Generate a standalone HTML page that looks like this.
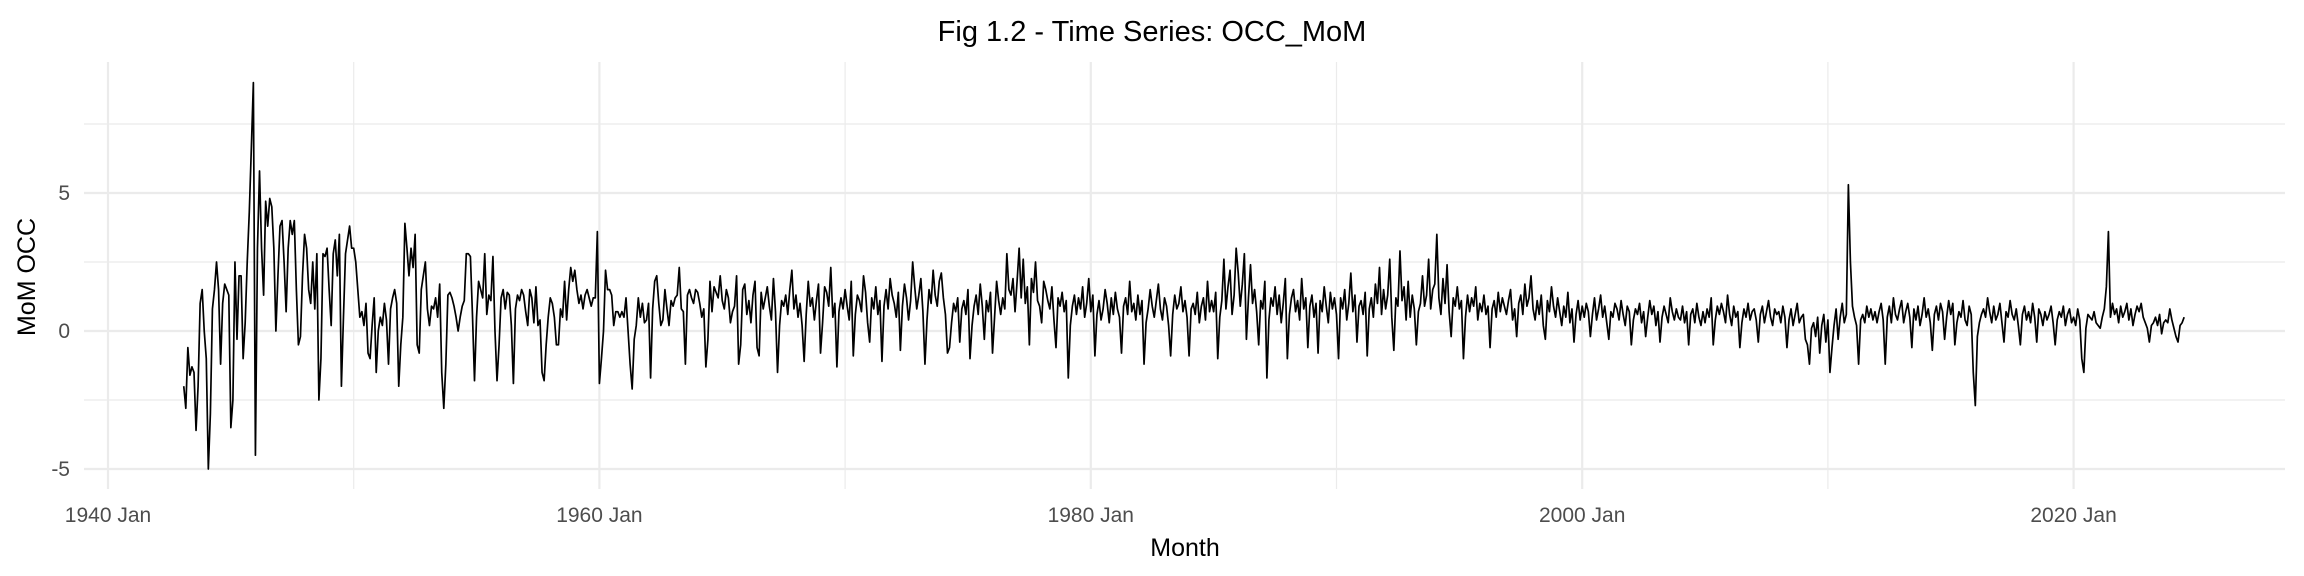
<!DOCTYPE html>
<html><head><meta charset="utf-8"><style>
html,body{margin:0;padding:0;background:#fff;}
svg{display:block;font-family:"Liberation Sans",Arial,sans-serif;}
</style></head><body>
<svg id="chart" width="2304" height="576" viewBox="0 0 2304 576" xmlns="http://www.w3.org/2000/svg">
<rect width="2304" height="576" fill="#fff"/>
<g id="grid"></g>
<g id="axes"></g>
<path id="line" fill="none" stroke="#000" stroke-width="1.7" stroke-linejoin="round"/>
<text x="1152" y="41" font-size="29" text-anchor="middle" fill="#000">Fig 1.2 - Time Series: OCC_MoM</text>
<text x="1185" y="556" font-size="25" text-anchor="middle" fill="#000">Month</text>
<text transform="translate(35,277) rotate(-90)" font-size="25" text-anchor="middle" fill="#000">MoM OCC</text>
</svg>
<script>
const startYear = 1943, startMonth = 1; // Feb 1943 (0-based month)
const occMoM = [
-2,-2.8,-0.6,-1.6,-1.3,-1.5,-3.6,-2,1,1.5,0,
-1,-5,-3,0.8,1.5,2.5,1.5,-1.2,1,1.7,1.5,1.3,
-3.5,-2.5,2.5,-0.3,2,2,-1,0.3,2.5,4.3,6.6,9,
-4.5,3,5.8,3,1.3,4.7,3.8,4.8,4.5,3,0,2,
3.8,4,2.5,0.7,3,4,3.5,4,1.5,-0.5,-0.2,2,
3.5,3,1.5,1,2.5,0.8,2.8,-2.5,-1,2.8,2.7,3,
1.5,0.2,2.8,3.3,2,3.5,-2,0.5,2.8,3.3,3.8,3,
3,2.5,1.5,0.5,0.7,0.2,1,-0.8,-1,0.2,1.2,-1.5,
0,0.5,0.2,1,0.4,-1.2,0.8,1.2,1.5,1,-2,-0.5,
0.5,3.9,3,2,3,2.3,3.5,-0.5,-0.8,1.5,2,2.5,
0.8,0.2,0.9,0.8,1.2,0.5,1.7,-1.5,-2.8,-1.2,1.3,1.4,
1.2,0.9,0.5,0,0.5,0.9,1.1,2.8,2.8,2.7,0.6,-1.8,
0.5,1.8,1.5,1.2,2.8,0.6,1.3,1.1,2.7,0,-1.8,-0.5,
1.2,1.5,0.8,1.4,1.3,0.2,-1.9,0.8,1.3,1.1,1.5,1.3,
0.7,0.2,1.5,1.2,0.3,1.6,0.2,0.4,-1.5,-1.8,-0.5,0.5,
1.2,1,0.5,-0.5,-0.5,0.8,0.5,1.8,0.4,1.5,2.3,1.8,
2.2,1.5,1,1.3,0.8,1.3,1.5,1.2,0.9,1.2,1.2,3.6,
-1.9,-1,0,2.2,1.5,1.5,1.3,0.2,0.7,0.7,0.5,0.7,
0.5,1.2,0,-1.2,-2.1,-0.3,0.2,1.2,0.5,1,0.3,0.4,
1,-1.7,0.8,1.8,2,1,0.2,0.4,1.5,0.8,0.2,1.1,
0.9,1.2,1.3,2.3,0.8,0.7,-1.2,1.3,1.5,1.2,1,1.5,
1.4,1,0.5,0.8,-1.3,-0.3,1.8,0.7,1.6,1.4,1.2,2,
1.1,0.8,1.5,1.2,0.3,0.7,0.9,2,-1.2,-0.5,1.5,1.7,
0.6,1.1,0.3,1.3,1.8,-0.6,-0.9,1.4,0.8,1.2,1.6,0.9,
0.4,1.9,0.7,-1.5,0.2,1.1,0.9,1.3,0.6,1.5,2.2,0.8,
1.3,0.5,1,0.2,-1.1,0.6,1.8,0.9,1.2,0.4,1.1,1.7,
-0.8,0.3,1.6,1.4,0.9,2.3,0.5,1,-1.3,0.7,1.2,0.8,
1.5,0.9,0.4,1.8,-0.9,0.6,1.3,1.1,0.7,2,1.4,0.3,
-0.4,1.2,0.8,1.6,0.6,1.1,-1.1,0.9,1.5,0.8,1.9,1.3,
1,0.5,1.4,-0.7,0.9,1.7,1.2,0.4,1.1,2.5,1.6,0.8,
1.3,1.9,0.7,-1.2,0.4,1.5,1,2.2,1.3,0.9,1.8,2.1,
1.2,0.6,-0.8,-0.6,0.3,1,0.7,1.2,-0.4,0.8,1.1,0.6,
1.5,-1,0.2,0.9,1.3,0.6,1.7,0.9,-0.3,1.1,0.7,1.4,
-0.8,0.5,1.8,1.1,0.6,1.2,0.8,2.8,1.5,1.3,1.9,0.7,
1.8,3,1.2,2.6,1,1.6,-0.5,1.9,1.4,2.5,1.1,0.9,
0.3,1.8,1.5,1.1,0.8,1.6,0.4,-0.6,1.2,0.9,1.4,0.7,
1.1,-1.7,0.2,0.9,1.3,0.6,1.2,0.8,1.6,0.5,1,1.9,
0.7,1.3,-0.9,0.6,1.1,0.4,0.8,1.5,1,0.3,1.2,0.6,
1.4,0.8,0.5,-0.8,0.9,1.2,0.6,1.8,0.7,1,0.4,1.3,
0.6,1.1,-1.2,0.3,0.8,1.5,0.9,0.5,1.1,1.7,0.8,0.4,
1.2,0.9,0.2,-0.9,0.6,1.3,0.8,1,1.6,0.7,1.1,0.5,
-0.9,0.8,1,0.6,1.4,0.3,0.9,1.2,0.4,1.8,0.7,1.1,
0.7,1.4,-1,0.5,1.1,2.6,0.8,1.6,2.2,0.6,1.3,3,
2.1,0.9,1.7,2.8,-0.3,1.2,2.4,1,1.5,0.7,-0.5,1.1,
0.8,1.8,-1.7,0.4,1.2,0.9,1.6,0.6,1.3,0.3,1,1.9,
-1,0.6,1.2,1.5,0.7,1.1,0.4,1.9,0.8,1.2,-0.6,0.9,
1.3,0.5,1,-0.8,1.1,0.7,1.6,0.9,0.3,1.4,0.8,1.2,
0.6,-1,1.2,0.8,1.5,0.4,1,2.1,0.7,1.3,-0.4,0.9,
1.1,0.6,1.4,-0.9,0.8,1.2,0.5,1.7,1,2.3,0.6,1.5,
0.8,1.3,2.6,0.5,-0.7,1.2,0.9,2.9,1.1,1.6,0.4,1.8,
0.5,1.3,0.8,-0.5,0.7,1,2,0.9,1.3,2.6,0.8,1.5,
1.7,3.5,1.2,0.6,1.9,1,2.4,0.7,-0.2,1.2,0.9,1.6,
0.8,1.1,-1,0.5,1.3,0.7,1.2,0.9,1.6,0.4,1,0.7,
1.3,0.6,0.9,-0.6,0.8,1.1,0.5,1.4,0.7,1.2,0.9,0.6,
1.1,1.5,0.4,0.8,-0.2,1,1.3,0.6,1.7,0.9,1.2,2,
0.8,0.4,1.1,0.6,1.3,0.2,-0.3,1.1,0.7,1.6,0.9,0.5,
1.2,0.7,0.2,0.9,0.5,1.4,0.3,0.8,-0.4,0.6,1.1,0.4,
0.9,0.5,1,0.7,-0.2,0.6,1.2,0.4,0.8,1.3,0.5,0.9,
0.3,-0.3,0.7,0.5,1,0.8,0.4,1.1,0.6,0.2,0.9,0.7,
-0.5,0.4,0.8,0.6,1,0.3,0.7,-0.2,0.5,1.1,0.6,0.9,
0.2,0.7,-0.4,0.5,0.9,0.6,0.3,1.2,0.7,0.4,0.8,0.5,
0.4,0.9,0.3,0.7,-0.5,0.6,0.8,0.3,1,0.5,0.2,0.7,
0.3,0.8,0.5,1.2,-0.5,0.4,0.9,0.6,1,0.7,0.3,1.3,
0.6,0.2,0.9,0.5,0.7,-0.6,0.3,0.8,0.5,1,0.4,0.7,
0.8,0.4,-0.4,0.6,0.9,0.3,0.7,1.1,0.5,0.2,0.8,0.6,
0.7,0.3,0.9,0.5,-0.6,0.4,0.8,0.2,0.6,1,0.3,0.5,
0.6,-0.3,-0.5,-1.2,0.1,0.3,-0.2,0.5,-0.8,0.2,0.6,-0.4,
0.4,-1.5,-0.6,0.2,0.8,-0.3,0.5,1,0.3,0.6,5.3,2.5,
0.9,0.5,0.2,-1.2,0.4,0.6,0.3,0.9,0.5,0.8,0.4,0.7,
0.3,0.7,1,0.4,-1.2,0.5,0.9,0.3,1.2,0.6,0.4,0.8,
1.1,0.3,0.7,1,0.5,-0.6,0.8,0.4,0.9,0.2,0.6,1.2,
0.5,0.8,0.3,-0.7,0.6,0.9,0.4,1,0.7,-0.3,0.5,1.1,
0.6,1,-0.5,0.3,0.7,0.5,1.1,0.4,0.2,0.9,0.6,-1.5,
-2.7,-0.2,0.3,0.6,0.8,0.5,1.2,0.7,0.3,0.9,0.4,0.6,
1,0.3,-0.4,0.7,0.5,1.1,0.6,0.4,0.8,0.2,-0.5,0.6,
0.9,0.4,0.7,0.3,1,0.5,-0.4,0.8,0.6,0.2,0.7,0.4,
0.6,0.9,0.3,-0.5,0.4,0.7,0.5,0.9,0.2,0.6,0.8,0.3,
0.5,0.2,0.8,0.4,-1,-1.5,0.1,0.6,0.5,0.4,0.7,0.3,
0.2,0.1,0.5,0.8,1.6,3.6,0.5,1,0.6,0.8,0.3,0.9,
0.5,0.7,1,0.4,0.8,0.2,0.6,0.9,0.7,1,0.5,0.3,
0.1,-0.4,0.2,0.3,0.5,0.2,0.6,-0.1,0.3,0.4,0.3,0.8,
0.4,0.1,-0.2,-0.4,0.2,0.3,0.5
];
const yTicks = [-5, 0, 5];
const yTickLabels = ["-5", "0", "5"];
const xTicks = [1940, 1960, 1980, 2000, 2020];
const xTickLabels = ["1940 Jan", "1960 Jan", "1980 Jan", "2000 Jan", "2020 Jan"];

const NS = "http://www.w3.org/2000/svg";
const panel = {left: 84, right: 2285, top: 62, bottom: 489};
const xScale = yr => 108 + (yr - 1940) * 24.57;
const yScale = v => 331 - v * 27.6;

const grid = document.getElementById('grid');
const axes = document.getElementById('axes');
function line(parent, x1, y1, x2, y2, w) {
  const l = document.createElementNS(NS, 'line');
  l.setAttribute('x1', x1); l.setAttribute('y1', y1); l.setAttribute('x2', x2); l.setAttribute('y2', y2);
  l.setAttribute('stroke', '#ebebeb'); l.setAttribute('stroke-width', w);
  parent.appendChild(l); return l;
}
for (let v = -2.5; v <= 7.5; v += 5) {
  const g = line(grid, panel.left, yScale(v), panel.right, yScale(v), 1.2);
  
  
}
for (let yr = 1950; yr <= 2010; yr += 20) {
  const g = line(grid, xScale(yr), panel.top, xScale(yr), panel.bottom, 1.2);
  
  
}
yTicks.forEach((v, i) => {
  const g = line(grid, panel.left, yScale(v), panel.right, yScale(v), 2.2);
  
  
  const t = document.createElementNS(NS, 'text');
  t.setAttribute('x', 70); t.setAttribute('y', yScale(v) + 7);
  t.setAttribute('text-anchor', 'end'); t.setAttribute('font-size', '21'); t.setAttribute('fill', '#4d4d4d');
  t.textContent = yTickLabels[i];
  
  
  axes.appendChild(t);
});
xTicks.forEach((yr, i) => {
  const g = line(grid, xScale(yr), panel.top, xScale(yr), panel.bottom, 2.2);
  
  
  const t = document.createElementNS(NS, 'text');
  t.setAttribute('x', xScale(yr)); t.setAttribute('y', 522);
  t.setAttribute('text-anchor', 'middle'); t.setAttribute('font-size', '21'); t.setAttribute('fill', '#4d4d4d');
  t.textContent = xTickLabels[i];
  
  
  axes.appendChild(t);
});
let d = '';
occMoM.forEach((v, i) => {
  const yr = startYear + (startMonth + i) / 12;
  d += (i ? 'L' : 'M') + xScale(yr).toFixed(2) + ',' + yScale(v).toFixed(2);
});
document.getElementById('line').setAttribute('d', d);
</script>
</body></html>
